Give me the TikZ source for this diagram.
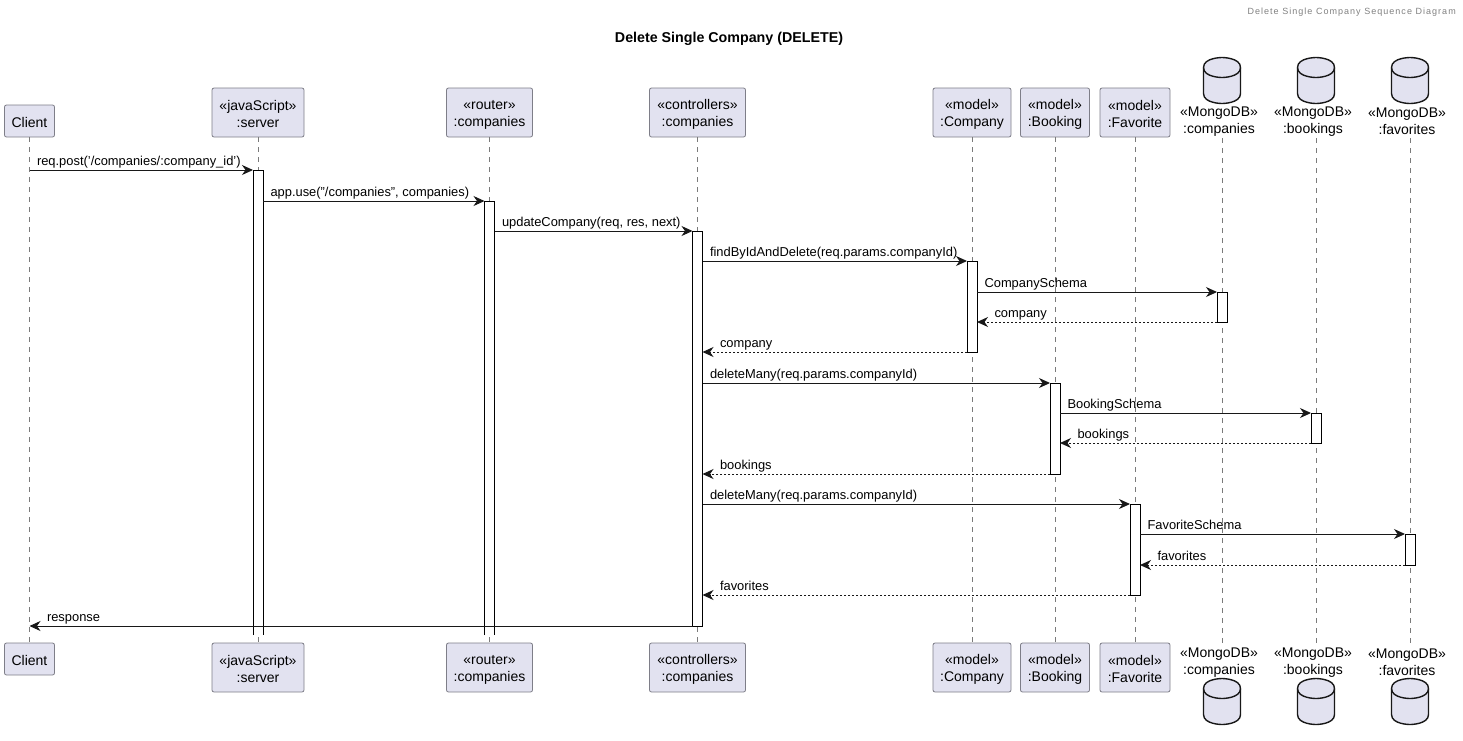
\documentclass[tikz,border=0pt]{standalone}
\usepackage{fontspec}
\setmainfont{Liberation Sans}
\newfontfamily\headerfont[LetterSpace=11.5]{Liberation Sans}
\usetikzlibrary{arrows.meta,positioning}
\definecolor{boxfill}{HTML}{E2E2F0}
\definecolor{boxline}{HTML}{7E7E88}
\definecolor{lifegray}{HTML}{7A7A7A}
\definecolor{inkdark}{HTML}{181818}
\newcommand{\fontbox}{\fontsize{14}{17}\selectfont}
\newcommand{\fontmsg}{\fontsize{12.9}{15}\selectfont}
\newcommand{\linestrut}{\rule[-3pt]{0pt}{15pt}}
\newcommand{\oneline}[1]{\linestrut\raisebox{-1.5pt}{#1}}
\newcommand{\twolines}[2]{\oneline{#1}\\\oneline{#2}}
\tikzset{
	actor/.style = {draw = boxline, fill = boxfill, rectangle, rounded corners = 2pt, line width = 0.8pt, align = center, font = \fontbox, inner sep = 0pt, minimum height = 49pt},
	store/.style = {rectangle, align = center, font = \fontbox, inner sep = 0pt, outer sep = 0pt, minimum height = 36pt},
	life/.style = {draw = lifegray, line width = 0.6pt, dash pattern = on 5pt off 5pt},
	bar/.style = {draw = black, fill = white, rectangle, line width = 1pt, minimum width = 10pt, inner sep = 0pt, outer sep = 0pt, anchor = north},
	openbar/.style = {bar, draw = none},
	barline/.style = {draw = black, line width = 1pt},
	msg/.style = {draw = inkdark, line width = 1pt, -{Stealth[length = 11pt, width = 10pt, inset = 3.5pt]}},
	ret/.style = {msg, dash pattern = on 2pt off 2pt},
	msglabel/.style = {font = \fontmsg, inner sep = 0pt, anchor = base west, pos = 0, xshift = 7pt, yshift = 4.5pt},
	retlabel/.style = {font = \fontmsg, inner sep = 0pt, anchor = base west, pos = 1, xshift = 17pt, yshift = 4.5pt},
	dbcan/.pic = {
		\path[draw = inkdark, fill = boxfill, line width = 1.4pt]
			(-18.5,-13) .. controls (-18.5,-23) and (0,-23) .. (0,-23) .. controls (0,-23) and (18.5,-23) .. (18.5,-13)
			-- (18.5,13) .. controls (18.5,23) and (0,23) .. (0,23) .. controls (0,23) and (-18.5,23) .. (-18.5,13) -- cycle;
		\path[draw = inkdark, line width = 1.4pt]
			(-18.5,-13) .. controls (-18.5,-3) and (0,-3) .. (0,-3) .. controls (0,-3) and (18.5,-3) .. (18.5,-13);
	},
}

\begin{document}
\begin{tikzpicture}[x = 1pt, y = -1pt, on grid]
	\useasboundingbox (0,0) rectangle (1463,740);
	\node[font = \headerfont\fontsize{9}{11}\selectfont, text = gray, inner sep = 0pt, anchor = east] (header) at (1456,12.5) {Delete Single Company Sequence Diagram};
	\node[font = \bfseries\fontsize{14.25}{17}\selectfont, inner sep = 0pt] (title) at (729,39) {Delete Single Company (DELETE)};

	% participants
	\node[actor, minimum width = 50pt, minimum height = 32pt] (client) at (29.5,121) {\oneline{Client}};
	\node[actor, minimum width = 92pt] (server) at (258,112.5) {\twolines{«javaScript»}{:server}};
	\node[actor, minimum width = 86pt] (router) [right = 231.5pt of server] {\twolines{«router»}{:companies}};
	\node[actor, minimum width = 96pt] (controllers) [right = 208pt of router] {\twolines{«controllers»}{:companies}};
	\node[actor, minimum width = 78pt] (company) [right = 274.5pt of controllers] {\twolines{«model»}{:Company}};
	\node[actor, minimum width = 69pt] (booking) [right = 83pt of company] {\twolines{«model»}{:Booking}};
	\node[actor, minimum width = 70pt] (favorite) [right = 80pt of booking] {\twolines{«model»}{:Favorite}};
	\node[store] (dbcompanies) at (1219,120) {\twolines{«MongoDB»}{:companies}};
	\node[store] (dbbookings) [right = 94pt of dbcompanies] {\twolines{«MongoDB»}{:bookings}};
	\node[store] (dbfavorites) [right = 94pt of dbbookings] {\twolines{«MongoDB»}{:favorites}};
	\coordinate (cancompanies) at (1222,80.5);
	\coordinate (canbookings) at (1316,80.5);
	\coordinate (canfavorites) at (1410,80.5);
	\pic at (cancompanies) {dbcan};
	\pic at (canbookings) {dbcan};
	\pic at (canfavorites) {dbcan};

	\node[actor, minimum width = 50pt, minimum height = 32pt] (clientend) [below = 538pt of client] {\oneline{Client}};
	\node[actor, minimum width = 92pt] (serverend) [below = 555pt of server] {\twolines{«javaScript»}{:server}};
	\node[actor, minimum width = 86pt] (routerend) [below = 555pt of router] {\twolines{«router»}{:companies}};
	\node[actor, minimum width = 96pt] (controllersend) [below = 555pt of controllers] {\twolines{«controllers»}{:companies}};
	\node[actor, minimum width = 78pt] (companyend) [below = 555pt of company] {\twolines{«model»}{:Company}};
	\node[actor, minimum width = 69pt] (bookingend) [below = 555pt of booking] {\twolines{«model»}{:Booking}};
	\node[actor, minimum width = 70pt] (favoriteend) [below = 555pt of favorite] {\twolines{«model»}{:Favorite}};
	\node[store] (dbcompaniesend) [below = 541pt of dbcompanies] {\twolines{«MongoDB»}{:companies}};
	\node[store] (dbbookingsend) [below = 541pt of dbbookings] {\twolines{«MongoDB»}{:bookings}};
	\node[store] (dbfavoritesend) [below = 541pt of dbfavorites] {\twolines{«MongoDB»}{:favorites}};
	\pic at (1222,701.5) {dbcan};
	\pic at (1316,701.5) {dbcan};
	\pic at (1410,701.5) {dbcan};

	% lifelines
	\path[life]
		(client.south) edge (clientend.north)
		(server.south) edge (serverend.north)
		(router.south) edge (routerend.north)
		(controllers.south) edge (controllersend.north)
		(company.south) edge (companyend.north)
		(booking.south) edge (bookingend.north)
		(favorite.south) edge (favoriteend.north)
		(cancompanies |- dbcompanies.south) edge (cancompanies |- dbcompaniesend.north)
		(canbookings |- dbbookings.south) edge (canbookings |- dbbookingsend.north)
		(canfavorites |- dbfavorites.south) edge (canfavorites |- dbfavoritesend.north)
	;

	% activations
	\node[openbar, minimum height = 465pt] (barserver) at (server |- 0,170) {};
	\node[openbar, minimum height = 434pt] (barrouter) at (router |- 0,201) {};
	\draw[barline] (barserver.south west) |- (barserver.north east) -- (barserver.south east);
	\draw[barline] (barrouter.south west) |- (barrouter.north east) -- (barrouter.south east);
	\node[bar, minimum height = 395pt] (barcontrollers) at (controllers |- 0,231) {};
	\node[bar, minimum height = 91pt] (barcompany) at (company |- 0,261) {};
	\node[bar, minimum height = 30pt] (bardbcompanies) at (cancompanies |- 0,292) {};
	\node[bar, minimum height = 91pt] (barbooking) at (booking |- 0,383) {};
	\node[bar, minimum height = 30pt] (bardbbookings) at (canbookings |- 0,413) {};
	\node[bar, minimum height = 91pt] (barfavorite) at (favorite |- 0,504) {};
	\node[bar, minimum height = 31pt] (bardbfavorites) at (canfavorites |- 0,534) {};

	% messages
	\path[msg] (client |- barserver.north) -- node[msglabel] (m1) {req.post('/companies/:company\_id')} (barserver.north west);
	\path[msg] (barserver.east |- barrouter.north) -- node[msglabel] (m2) {app.use("/companies", companies)} (barrouter.north west);
	\path[msg] (barrouter.east |- barcontrollers.north) -- node[msglabel] (m3) {updateCompany(req, res, next)} (barcontrollers.north west);
	\path[msg] (barcontrollers.east |- barcompany.north) -- node[msglabel] (m4) {findByIdAndDelete(req.params.companyId)} (barcompany.north west);
	\path[msg] (barcompany.east |- bardbcompanies.north) -- node[msglabel] (m5) {CompanySchema} (bardbcompanies.north west);
	\path[ret] (bardbcompanies.south west) -- node[retlabel] (m6) {company} (barcompany.east |- bardbcompanies.south);
	\path[ret] (barcompany.south west) -- node[retlabel] (m7) {company} (barcontrollers.east |- barcompany.south);
	\path[msg] (barcontrollers.east |- barbooking.north) -- node[msglabel] (m8) {deleteMany(req.params.companyId)} (barbooking.north west);
	\path[msg] (barbooking.east |- bardbbookings.north) -- node[msglabel] (m9) {BookingSchema} (bardbbookings.north west);
	\path[ret] (bardbbookings.south west) -- node[retlabel] (m10) {bookings} (barbooking.east |- bardbbookings.south);
	\path[ret] (barbooking.south west) -- node[retlabel] (m11) {bookings} (barcontrollers.east |- barbooking.south);
	\path[msg] (barcontrollers.east |- barfavorite.north) -- node[msglabel] (m12) {deleteMany(req.params.companyId)} (barfavorite.north west);
	\path[msg] (barfavorite.east |- bardbfavorites.north) -- node[msglabel] (m13) {FavoriteSchema} (bardbfavorites.north west);
	\path[ret] (bardbfavorites.south west) -- node[retlabel] (m14) {favorites} (barfavorite.east |- bardbfavorites.south);
	\path[ret] (barfavorite.south west) -- node[retlabel] (m15) {favorites} (barcontrollers.east |- barfavorite.south);
	\path[msg] (barcontrollers.south west) -- node[retlabel] (m16) {response} (client |- barcontrollers.south);
\end{tikzpicture}
\end{document}
